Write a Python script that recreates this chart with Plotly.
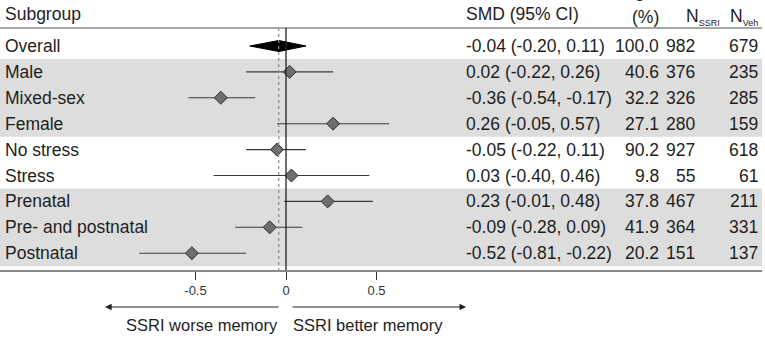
import plotly.graph_objects as go

# Forest plot data: SSRI vs vehicle, memory outcomes
subgroups = ["Overall", "Male", "Mixed-sex", "Female", "No stress", "Stress",
             "Prenatal", "Pre- and postnatal", "Postnatal"]
smd = [-0.04, 0.02, -0.36, 0.26, -0.05, 0.03, 0.23, -0.09, -0.52]
ci_low = [-0.20, -0.22, -0.54, -0.05, -0.22, -0.40, -0.01, -0.28, -0.81]
ci_high = [0.11, 0.26, -0.17, 0.57, 0.11, 0.46, 0.48, 0.09, -0.22]
weight = [100.0, 40.6, 32.2, 27.1, 90.2, 9.8, 37.8, 41.9, 20.2]
n_ssri = [982, 376, 326, 280, 927, 55, 467, 364, 151]
n_veh = [679, 235, 285, 159, 618, 61, 211, 331, 137]
x_ticks = [-0.5, 0, 0.5]
x_tick_labels = ["-0.5", "0", "0.5"]
shaded_groups = [(1, 3), (6, 8)]  # row index ranges drawn on grey background

FONT = "Liberation Sans"
FS = 17.5
TXT = "#1e1e1e"
W, H = 765, 338
PLOT_W = 762
PLOT_H = 270
ROW0_PX, ROW_PX = 46, 25.9
PX_ZERO, PX_PER_UNIT = 286, 181

def row_of_px(p):
    return (p - ROW0_PX) / ROW_PX

def paper_of_px(p):
    return (PLOT_H - p) / PLOT_H

rows = list(range(len(subgroups)))
fig = go.Figure()

# grey bands behind subgroup blocks
shapes = []
for a, b in shaded_groups:
    shapes.append(dict(type="rect", xref="paper", yref="y", x0=0, x1=1,
                       y0=a - 0.5, y1=b + 0.5, fillcolor="#dddddd",
                       line=dict(width=0), layer="below"))
# header rule
head_y = row_of_px(28)
shapes.append(dict(type="line", xref="paper", yref="y", x0=0, x1=1,
                   y0=head_y, y1=head_y, line=dict(color="#8a8a8a", width=1.6)))
# overall estimate (dotted) and null line (solid)
bottom_y = row_of_px(PLOT_H)
shapes.append(dict(type="line", xref="x", yref="y", x0=smd[0], x1=smd[0],
                   y0=head_y, y1=bottom_y,
                   line=dict(color="#8c8c8c", width=1.2, dash="dot")))
shapes.append(dict(type="line", xref="x", yref="y", x0=0, x1=0,
                   y0=head_y, y1=bottom_y, line=dict(color="#222222", width=1.3)))

# subgroup CIs and point estimates
fig.add_trace(go.Scatter(
    x=smd[1:], y=rows[1:], mode="markers",
    marker=dict(symbol="diamond", size=10, color="#6e6e6e",
                line=dict(color="#2e2e2e", width=1)),
    error_x=dict(type="data", symmetric=False,
                 array=[h - m for h, m in zip(ci_high[1:], smd[1:])],
                 arrayminus=[m - l for m, l in zip(smd[1:], ci_low[1:])],
                 width=0, thickness=1.1, color="#3a3a3a"),
    hoverinfo="skip", showlegend=False,
))

# overall summary diamond
dh = 5.5 / ROW_PX
fig.add_trace(go.Scatter(
    x=[ci_low[0], smd[0], ci_high[0], smd[0], ci_low[0]],
    y=[rows[0], rows[0] - dh, rows[0], rows[0] + dh, rows[0]],
    mode="lines", fill="toself", fillcolor="#000000",
    line=dict(color="#000000", width=1), hoverinfo="skip", showlegend=False,
))

ann = []
def txt(x, y, s, anchor="left", size=FS, xref="paper", yref="y", yanchor="middle"):
    ann.append(dict(x=x, y=y, xref=xref, yref=yref, text=s, showarrow=False,
                    xanchor=anchor, yanchor=yanchor,
                    font=dict(family=FONT, size=size, color=TXT)))

col_lab = 3 / PLOT_W
col_smd = 464 / PLOT_W
col_w = 661 / PLOT_W
col_ns = 697 / PLOT_W
col_nv = 760 / PLOT_W

def n_header(sub):
    return "N<sub><span style='font-size:9px'>" + sub + "</span></sub>"

# header
txt(col_lab, paper_of_px(14), "Subgroup", yref="paper")
txt(col_smd, paper_of_px(14), "SMD (95% CI)", yref="paper")
txt(col_w, paper_of_px(-9), "Weight", anchor="right", yref="paper")
txt(col_w, paper_of_px(17), "(%)", anchor="right", yref="paper")
txt(722 / PLOT_W, paper_of_px(17), n_header("SSRI"), anchor="right", yref="paper")
txt(col_nv, paper_of_px(17), n_header("Veh"), anchor="right", yref="paper")

for i in rows:
    txt(col_lab, i, subgroups[i])
    txt(col_smd, i, f"{smd[i]:.2f} ({ci_low[i]:.2f}, {ci_high[i]:.2f})")
    txt(col_w, i, f"{weight[i]:.1f}", anchor="right")
    txt(col_ns, i, str(n_ssri[i]), anchor="right")
    txt(col_nv, i, str(n_veh[i]), anchor="right")

# direction arrows and captions under the axis
arrow_py = paper_of_px(307)
cap_py = paper_of_px(325)
for head, tail in [(-1.0, -0.033), (0.995, 0.028)]:
    ann.append(dict(x=head, y=arrow_py, xref="x", yref="paper",
                    ax=tail, ay=0, axref="x", ayref="pixel", text="",
                    showarrow=True, arrowhead=2, arrowsize=1.1,
                    arrowwidth=1.2, arrowcolor="#222222"))
txt(-0.033, cap_py, "SSRI worse memory", anchor="right", size=16.5, xref="x", yref="paper")
txt(0.028, cap_py, "SSRI better memory", anchor="left", size=16.5, xref="x", yref="paper")

x_left = -PX_ZERO / PX_PER_UNIT
x_right = (PLOT_W - PX_ZERO) / PX_PER_UNIT

fig.update_layout(
    width=W, height=H,
    margin=dict(l=0, r=W - PLOT_W, t=0, b=H - PLOT_H),
    paper_bgcolor="white", plot_bgcolor="white",
    shapes=shapes, annotations=ann,
    xaxis=dict(range=[x_left, x_right], tickvals=x_ticks, ticktext=x_tick_labels,
               showgrid=False, zeroline=False, showline=True,
               linecolor="#8a8a8a", linewidth=1.6,
               ticks="outside", ticklen=8, tickwidth=1, tickcolor="#333333",
               tickfont=dict(family=FONT, size=13, color="#333333")),
    yaxis=dict(range=[row_of_px(PLOT_H), row_of_px(0)], showgrid=False,
               zeroline=False, showticklabels=False, showline=False),
)

fig.write_html("out.html")
